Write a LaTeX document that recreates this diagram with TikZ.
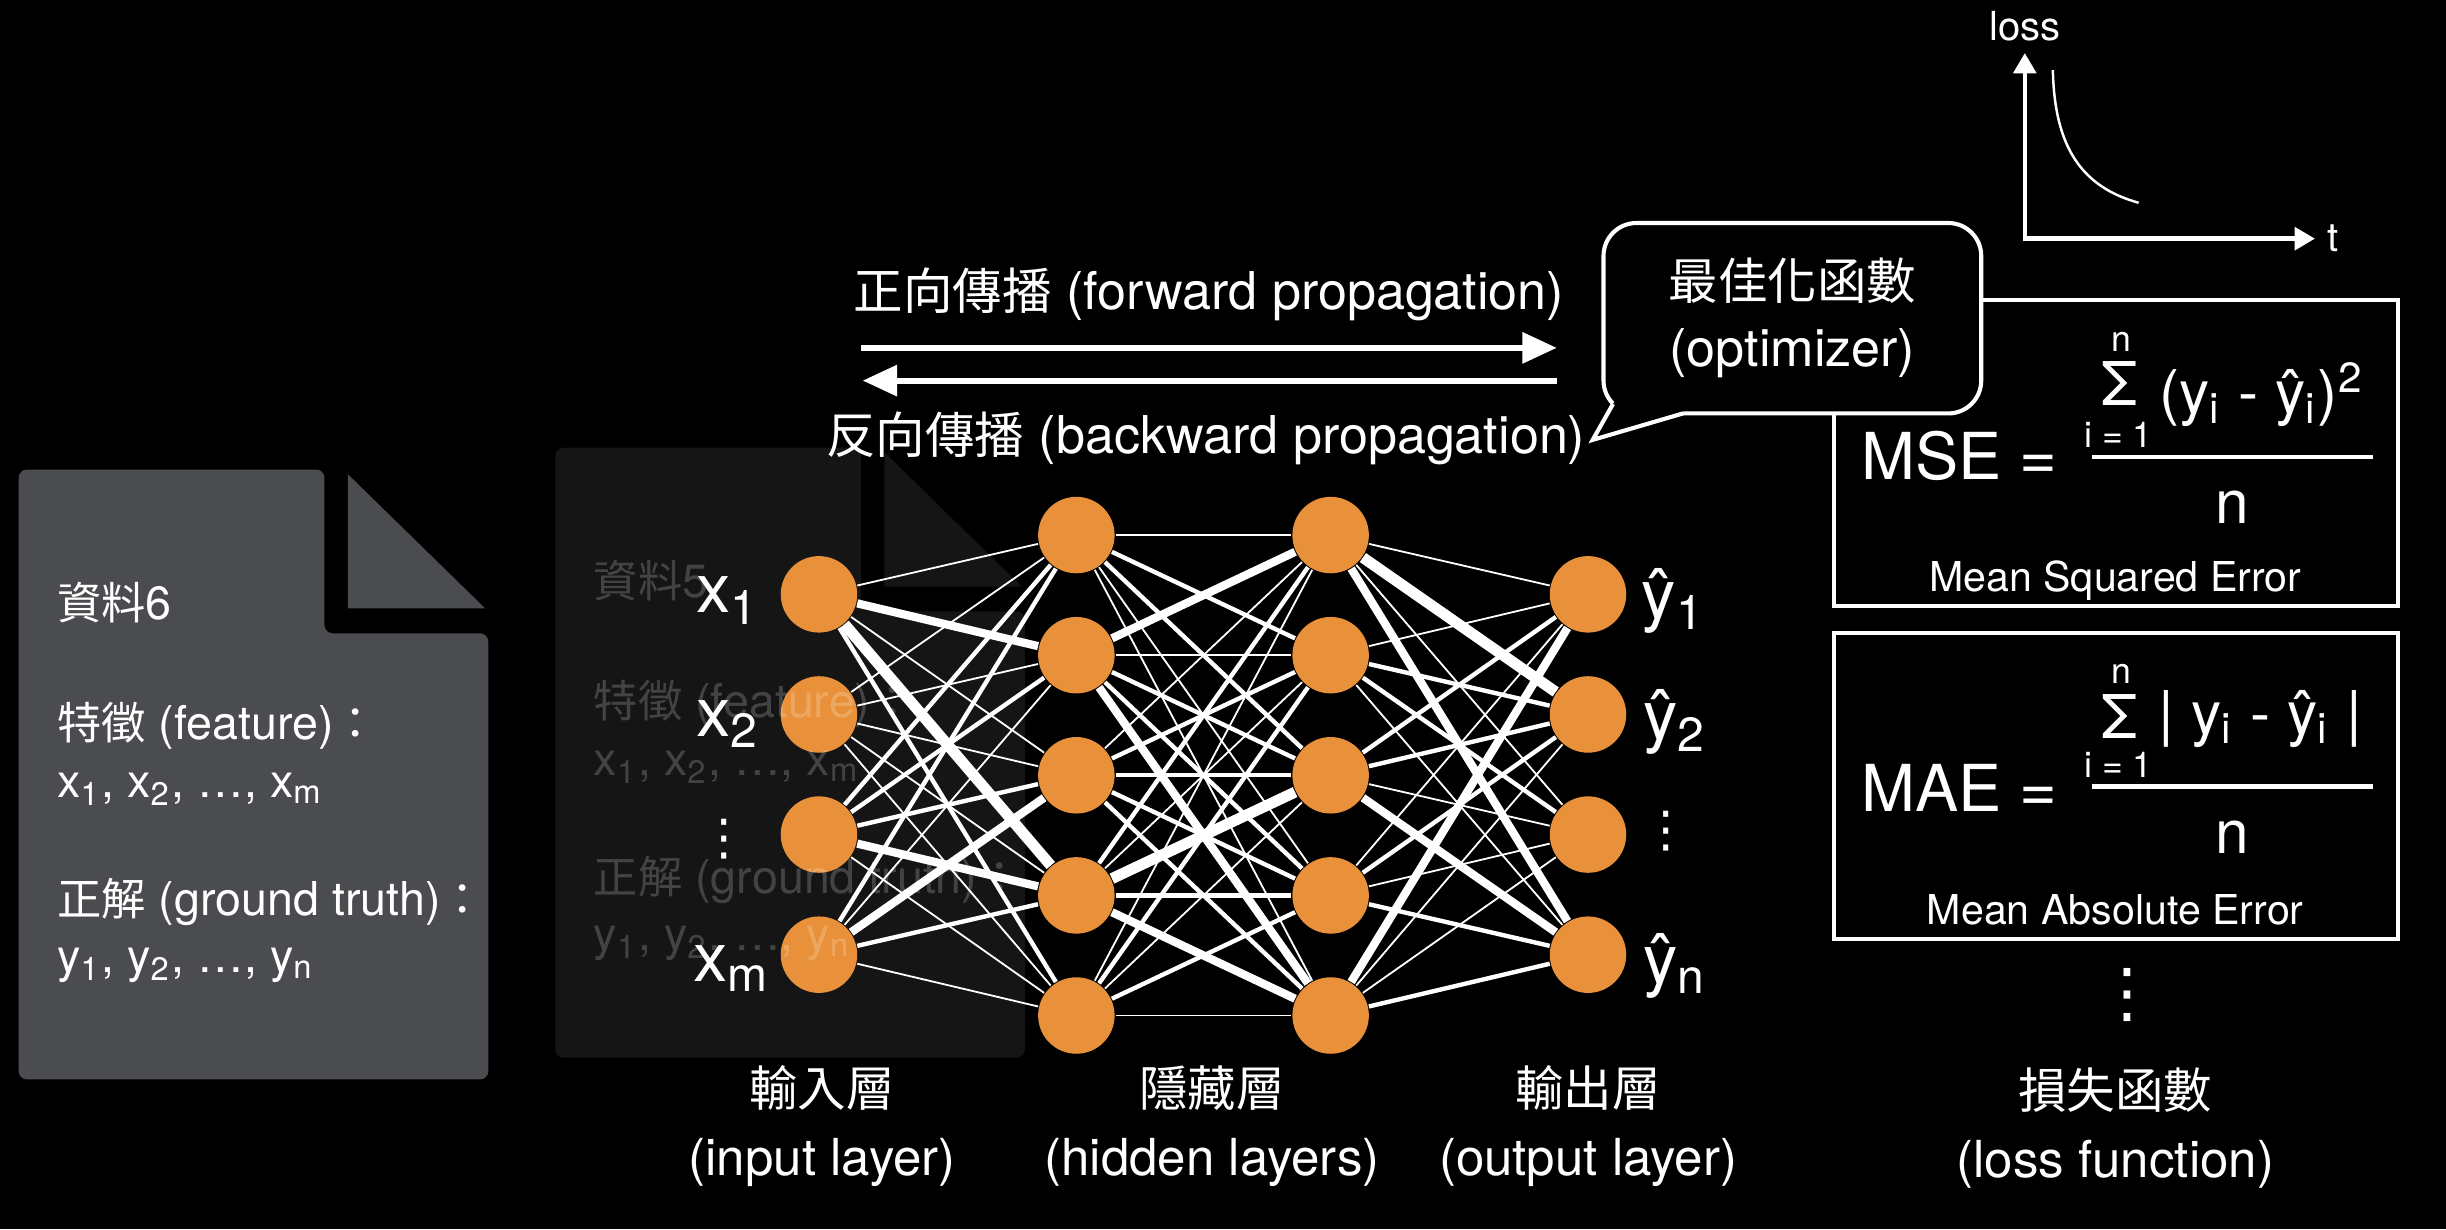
\documentclass[tikz,border=0pt]{standalone}
\usepackage{fontspec}
\setmainfont{TeX Gyre Heros}
\newfontfamily\cjk[Scale=0.95]{Noto Sans CJK TC}
\newfontfamily\dotfont{DejaVu Sans}
\usetikzlibrary{arrows.meta,positioning}
\definecolor{neuronorange}{RGB}{232,145,58}
\definecolor{sheetgray}{RGB}{75,76,80}
\definecolor{ghostgray}{RGB}{21,21,22}
\newcommand{\zh}[1]{{\cjk #1}}
\newcommand{\vd}{{\dotfont ⋮}}

\begin{document}
\begin{tikzpicture}[x=0.01cm, y=-0.01cm,
  neuron/.style={circle, fill=neuronorange, minimum size=0.49cm, inner sep=0pt},
  ew1/.style={white, line width=0.33pt},
  ew2/.style={white, line width=0.8pt},
  ew3/.style={white, line width=1.5pt},
  ew4/.style={white, line width=2pt},
  sheettxt/.style={text=white, anchor=west, inner sep=0pt, font=\fontsize{8.5}{10}\selectfont},
  layerlab/.style={text=white, align=center, font=\fontsize{9.3}{12.5}\selectfont},
  passlab/.style={text=white, font=\fontsize{9.5}{11}\selectfont},
  passarrow/.style={-{Triangle[length=6.3pt,width=5.5pt]}, white, line width=1.1pt},
  unitlab/.style={text=white, inner sep=0pt, font=\fontsize{12.5}{14}\selectfont},
  dotlab/.style={text=white, inner sep=0pt, font=\dotfont\fontsize{9}{10}\selectfont},
  lossbox/.style={draw=white, line width=0.75pt, minimum width=3.61cm, minimum height=1.96cm, inner sep=0pt},
  lhs/.style={text=white, inner sep=0pt, font=\fontsize{11.8}{14}\selectfont},
  formula/.style={text=white, inner sep=0pt, font=\fontsize{11}{13}\selectfont},
  sumlim/.style={text=white, inner sep=0pt, font=\fontsize{6.5}{8}\selectfont},
  errname/.style={text=white, inner sep=0pt, font=\fontsize{7.5}{9}\selectfont},
  fracbar/.style={white, line width=0.85pt},
  bubble/.style={draw=white, fill=black, line width=0.75pt, rounded corners=6pt,
                 minimum width=2.42cm, minimum height=1.22cm, align=center,
                 text=white, font=\fontsize{9.5}{12.2}\selectfont},
  plotaxis/.style={-{Triangle[length=3.7pt,width=4.1pt]}, white, line width=0.8pt, line cap=rect},
  axislab/.style={text=white, inner sep=0pt, font=\fontsize{7.3}{9}\selectfont},
]

%% ---- BACKGROUND ----
\fill[black] (0,0) rectangle (1568,788);

%% ---- DATA SHEET 6 (front) ----
\fill[sheetgray, rounded corners=1.5pt] (12,301) -- (208,301) -- (208,406) -- (313,406) -- (313,692) -- (12,692) -- cycle;
\fill[sheetgray] (223,304) -- (223,390) -- (311,390) -- cycle;
\node[sheettxt] (s6name)  at (36,386) {\zh{資料}6};
\node[sheettxt] (s6feat)  at (36,465) {\zh{特徵} (feature)\zh{：}};
\node[sheettxt] (s6xs)    at (36,506) {x\textsubscript{1}, x\textsubscript{2}, …, x\textsubscript{m}};
\node[sheettxt] (s6truth) at (36,578) {\zh{正解} (ground truth)\zh{：}};
\node[sheettxt] (s6ys)    at (36,619) {y\textsubscript{1}, y\textsubscript{2}, …, y\textsubscript{n}};

%% ---- DATA SHEET 5 (behind the input layer) ----
\begin{scope}[shift={(344,-14)}]
  \fill[ghostgray, rounded corners=1.5pt] (12,301) -- (208,301) -- (208,406) -- (313,406) -- (313,692) -- (12,692) -- cycle;
  \fill[ghostgray] (223,304) -- (223,390) -- (311,390) -- cycle;
\end{scope}

%% ---- NEURONS ----
\def\cin{525}
\def\cha{690}
\def\chb{853}
\def\cout{1018}
\foreach \i/\y in {1/381,2/458,3/535,4/612}{
  \node[neuron] (i\i) at (\cin,\y) {};
  \node[neuron] (o\i) at (\cout,\y) {};
}
\foreach \i/\y in {1/343,2/420,3/497,4/574,5/651}{
  \node[neuron] (h\i) at (\cha,\y) {};
  \node[neuron] (g\i) at (\chb,\y) {};
}

%% ---- WEIGHTS: input -> hidden 1 ----
\foreach \b/\w in {h1/ew1,h2/ew3,h3/ew1,h4/ew4,h5/ew2}{\draw[\w](i1)--(\b);}
\foreach \b/\w in {h1/ew1,h2/ew1,h3/ew1,h4/ew1,h5/ew1}{\draw[\w](i2)--(\b);}
\foreach \b/\w in {h1/ew2,h2/ew2,h3/ew2,h4/ew3,h5/ew1}{\draw[\w](i3)--(\b);}
\foreach \b/\w in {h1/ew2,h2/ew1,h3/ew3,h4/ew2,h5/ew1}{\draw[\w](i4)--(\b);}

%% ---- WEIGHTS: hidden 1 -> hidden 2 ----
\foreach \b/\w in {g1/ew1,g2/ew2,g3/ew2,g4/ew1,g5/ew1}{\draw[\w](h1)--(\b);}
\foreach \b/\w in {g1/ew3,g2/ew1,g3/ew2,g4/ew2,g5/ew3}{\draw[\w](h2)--(\b);}
\foreach \b/\w in {g1/ew1,g2/ew2,g3/ew2,g4/ew2,g5/ew2}{\draw[\w](h3)--(\b);}
\foreach \b/\w in {g1/ew2,g2/ew1,g3/ew4,g4/ew2,g5/ew3}{\draw[\w](h4)--(\b);}
\foreach \b/\w in {g1/ew1,g2/ew2,g3/ew1,g4/ew2,g5/ew1}{\draw[\w](h5)--(\b);}

%% ---- WEIGHTS: hidden 2 -> output ----
\foreach \b/\w in {o1/ew1,o2/ew4,o3/ew1,o4/ew3}{\draw[\w](g1)--(\b);}
\foreach \b/\w in {o1/ew1,o2/ew2,o3/ew2,o4/ew1}{\draw[\w](g2)--(\b);}
\foreach \b/\w in {o1/ew2,o2/ew2,o3/ew1,o4/ew3}{\draw[\w](g3)--(\b);}
\foreach \b/\w in {o1/ew1,o2/ew2,o3/ew1,o4/ew2}{\draw[\w](g4)--(\b);}
\foreach \b/\w in {o1/ew3,o2/ew1,o3/ew1,o4/ew2}{\draw[\w](g5)--(\b);}

%% ---- UNIT LABELS ----
\node[unitlab] (lx1) at (467,385) {x\textsubscript{1}};
\node[unitlab] (lx2) at (467,464) {x\textsubscript{2}};
\node[dotlab]  (lxd) at (464,538) {\vd};
\node[unitlab] (lxm) at (469,621) {x\textsubscript{m}};
\node[unitlab] (ly1) at (1073,385) {ŷ\textsubscript{1}};
\node[unitlab] (ly2) at (1074,463) {ŷ\textsubscript{2}};
\node[dotlab]  (lyd) at (1068,533) {\vd};
\node[unitlab] (lyn) at (1074,619) {ŷ\textsubscript{n}};

%% ---- GHOST TEXT OF SHEET 5 ----
\begin{scope}[shift={(344,-14)}, opacity=0.2]
  \node[sheettxt] (s5name)  at (36,386) {\zh{資料}5};
  \node[sheettxt] (s5feat)  at (36,465) {\zh{特徵} (feature)\zh{：}};
  \node[sheettxt] (s5xs)    at (36,506) {x\textsubscript{1}, x\textsubscript{2}, …, x\textsubscript{m}};
  \node[sheettxt] (s5truth) at (36,578) {\zh{正解} (ground truth)\zh{：}};
  \node[sheettxt] (s5ys)    at (36,619) {y\textsubscript{1}, y\textsubscript{2}, …, y\textsubscript{n}};
\end{scope}

%% ---- LAYER NAMES ----
\node[layerlab] (inlab)   at (527,722)  {\zh{輸入層}\\(input layer)};
\node[layerlab] (hidlab)  at (777,722)  {\zh{隱藏層}\\(hidden layers)};
\node[layerlab] (outlab)  at (1018,722) {\zh{輸出層}\\(output layer)};
\node[layerlab] (losslab) at (1356,723) {\zh{損失函數}\\(loss function)};

%% ---- PROPAGATION ----
\coordinate (fwdL) at (552,223);
\coordinate (fwdR) at (998,223);
\coordinate (bwdR) at (998,244);
\coordinate (bwdL) at (553,244);
\draw[passarrow] (fwdL) -- (fwdR);
\draw[passarrow] (bwdR) -- (bwdL);
\node[passlab] (fwdlab) at (775,189) {\zh{正向傳播} (forward propagation)};
\node[passlab] (bwdlab) at (773,281) {\zh{反向傳播} (backward propagation)};

%% ---- LOSS FUNCTIONS ----
\node[lossbox] (msebox) at (1356.5,290.5) {};
\node[lhs]     (mselhs) at (1256,292) {MSE =};
\node[formula] (msesig) at (1359,246) {Σ};
\node[sumlim]  (msetop) at (1360,219) {n};
\node[sumlim]  (msebot) at (1358,279) {i = 1};
\node[formula] (msenum) at (1450,253) {(y\textsubscript{i} - ŷ\textsubscript{i})\textsuperscript{2}};
\coordinate (msebarL) at (1341,293);
\coordinate (msebarR) at (1521,293);
\draw[fracbar] (msebarL) -- (msebarR);
\node[formula] (mseden)  at (1431,325) {n};
\node[errname] (msename) at (1356,372) {Mean Squared Error};

\node[lossbox] (maebox) at (1356.5,504) {};
\node[lhs]     (maelhs) at (1256,505) {MAE =};
\node[formula] (maesig) at (1359,459) {Σ};
\node[sumlim]  (maetop) at (1360,432) {n};
\node[sumlim]  (maebot) at (1358,490) {i = 1};
\node[formula] (maenum) at (1449,461) {| y\textsubscript{i} - ŷ\textsubscript{i} |};
\coordinate (maebarL) at (1341,504);
\coordinate (maebarR) at (1521,504);
\draw[fracbar] (maebarL) -- (maebarR);
\node[formula] (maeden)  at (1431,537) {n};
\node[errname] (maename) at (1356,583) {Mean Absolute Error};

\node[dotlab, font=\dotfont\fontsize{12}{14}\selectfont] (lossdots) at (1364,638) {\vd};

%% ---- OPTIMIZER BUBBLE ----
\node[bubble] (opt) at (1149,204) {\zh{最佳化函數}\\(optimizer)};
\coordinate (tailA) at (1034,259);
\coordinate (tailtip) at (1021,282);
\coordinate (tailB) at (1079,265);
\fill[black] (tailA) -- (tailtip) -- (tailB) -- (1079,261) -- (1045,261) -- (1036,256) -- cycle;
\draw[white, line width=0.75pt] (tailA) -- (tailtip) -- (tailB);

%% ---- LOSS CURVE ----
\coordinate (org) at (1298,153);
\coordinate (ytip) at (1298,34);
\coordinate (xtip) at (1484,153);
\draw[plotaxis] (org) -- (ytip);
\draw[plotaxis] (org) -- (xtip);
\node[axislab, above=2pt of ytip] (ylab) {loss};
\node[axislab, right=2pt of xtip] (xlab) {t};
\coordinate (cstart) at (1316,45);
\coordinate (cend) at (1371,130);
\draw[white, line width=0.45pt] (cstart) .. controls (1317,95) and (1335,120) .. (cend);

\end{tikzpicture}
\end{document}
